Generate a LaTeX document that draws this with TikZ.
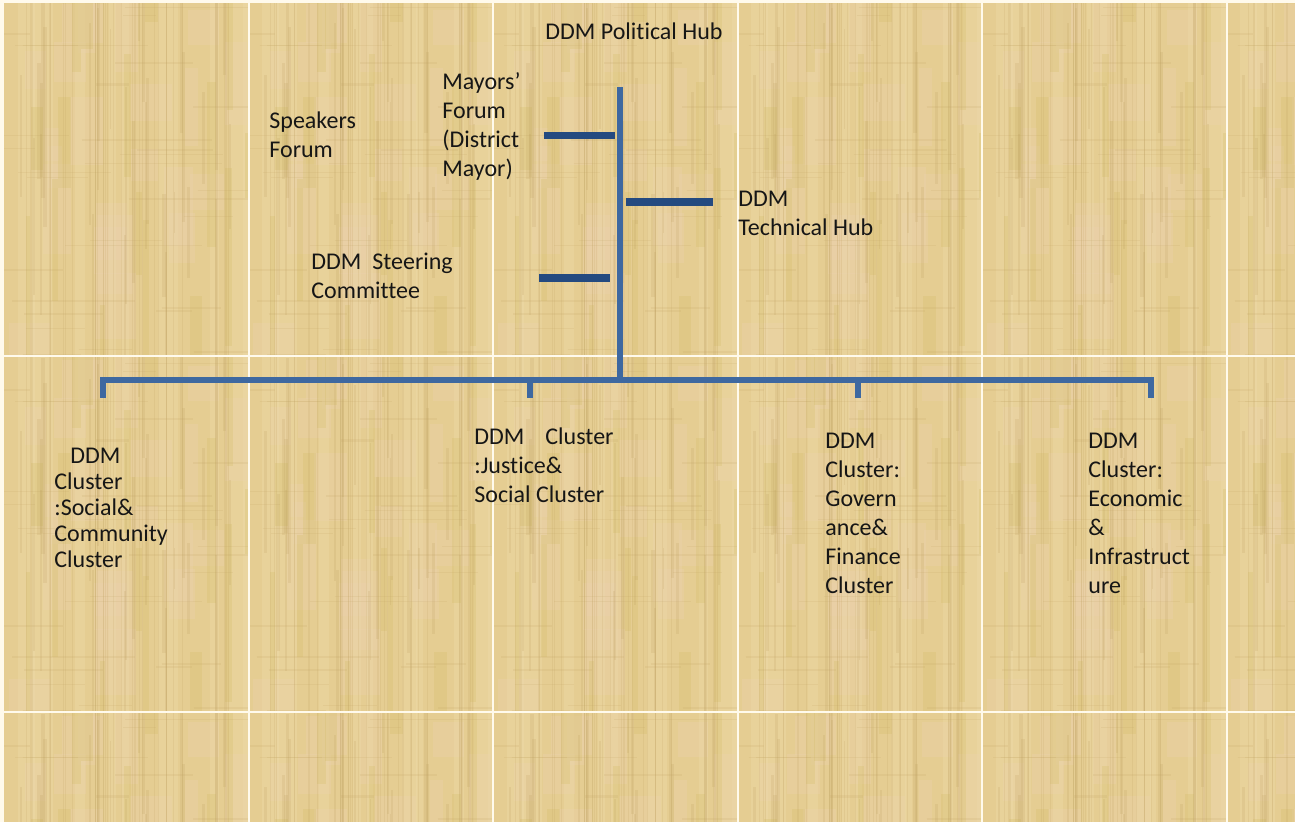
\documentclass[tikz,border=0pt]{standalone}
\usepackage{fontspec}
\setmainfont{Carlito}[Ligatures=NoCommon]

% papyrus background tones
\definecolor{papbase}{RGB}{229,205,146}
\definecolor{papdark}{RGB}{190,160,95}
\definecolor{paplight}{RGB}{245,228,185}
\definecolor{papolive}{RGB}{210,188,100}
\definecolor{paprose}{RGB}{236,210,176}
\definecolor{seam}{RGB}{255,250,236}
% connector and text colours
\definecolor{trunkblue}{RGB}{62,104,160}
\definecolor{stubblue}{RGB}{36,74,128}
\definecolor{ink}{RGB}{22,22,22}

% one papyrus tile, top-left corner at (#1,#2), same grain every time
\newcommand\papyrustile[2]{%
  \begin{scope}
    \clip (#1,#2) rectangle ++(244.5,356);
    \pgfmathsetseed{2024}%
    \foreach \k in {1,...,10}{%
      \pgfmathsetmacro\tx{#1+244.5*rnd}%
      \pgfmathsetmacro\tw{6+18*rnd}%
      \fill[paplight,opacity=0.22] (\tx,#2) rectangle ++(\tw,356);
    }%
    \foreach \k in {1,...,22}{%
      \pgfmathsetmacro\tx{#1+244.5*rnd-15}%
      \pgfmathsetmacro\ty{#2+356*rnd-30}%
      \pgfmathsetmacro\tw{12+30*rnd}%
      \pgfmathsetmacro\th{20+70*rnd}%
      \fill[paprose,opacity=0.3] (\tx,\ty) rectangle ++(\tw,\th);
    }%
    \foreach \k in {1,...,16}{%
      \pgfmathsetmacro\tx{#1+244.5*rnd}%
      \pgfmathsetmacro\ty{#2+356*rnd-50}%
      \pgfmathsetmacro\tw{4+12*rnd}%
      \pgfmathsetmacro\th{40+140*rnd}%
      \fill[papolive,opacity=0.25] (\tx,\ty) rectangle ++(\tw,\th);
    }%
    \foreach \k in {1,...,30}{%
      \pgfmathsetmacro\tx{#1+244.5*rnd}%
      \pgfmathsetmacro\ty{#2+356*rnd-60}%
      \pgfmathsetmacro\tw{1+3*rnd}%
      \pgfmathsetmacro\th{40+180*rnd}%
      \fill[papdark,opacity=0.18] (\tx,\ty) rectangle ++(\tw,\th);
    }%
    \foreach \k in {1,...,36}{%
      \pgfmathsetmacro\tx{#1+244.5*rnd}%
      \pgfmathsetmacro\lw{0.25+0.4*rnd}%
      \draw[papdark,opacity=0.16,line width=\lw pt] (\tx,#2) -- ++(0,356);
    }%
    \foreach \k in {1,...,30}{%
      \pgfmathsetmacro\tx{#1+220*rnd-20}%
      \pgfmathsetmacro\ty{#2+356*rnd}%
      \pgfmathsetmacro\tw{30+120*rnd}%
      \pgfmathsetmacro\lw{0.4+0.8*rnd}%
      \draw[papdark,opacity=0.14,line width=\lw pt] (\tx,\ty) -- ++(\tw,0);
    }%
  \end{scope}}

\tikzset{
  lbl/.style={anchor=base west, inner sep=0pt, align=flush left, text width=150pt,
    text=ink, font=\fontsize{12}{14.5}\selectfont},
  trunk/.style={draw=trunkblue, line width=3pt},
  stub/.style={draw=stubblue, line width=3.75pt},
}

\begin{document}
\begin{tikzpicture}[x=0.5pt, y=-0.5pt]
  \useasboundingbox (0,0) rectangle (1295,822);

  % papyrus sheet, tiled
  \fill[papbase] (0,0) rectangle (1295,822);
  \foreach \cx in {4,248.5,493,737.5,982,1226.5}{
    \foreach \cy in {0,356,712}{
      \papyrustile{\cx}{\cy}
    }
  }
  \foreach \sx in {248.5,493,737.5,982,1226.5}{
    \draw[seam, line width=1pt] (\sx,0) -- (\sx,822);
  }
  \foreach \sy in {356,712}{
    \draw[seam, line width=1pt] (0,\sy) -- (1295,\sy);
  }
  \fill[seam] (0,0) rectangle (1295,3);
  \fill[seam] (0,0) rectangle (4,822);

  % labels
  \node[lbl] (political) at (545,40) {DDM Political Hub};
  \node[lbl] (mayors) at (442,90) {Mayors’\\Forum\\(District\\Mayor)};
  \node[lbl] (speakers) at (269,129) {Speakers\\Forum};
  \node[lbl] (technical) at (738,207) {DDM\\Technical Hub};
  \node[lbl] (steering) at (311,270) {DDM\ \ Steering\\Committee};

  \node[lbl, font=\fontsize{12}{13}\selectfont] (social) at (54,464)
    {\hspace*{8pt}DDM\\Cluster\\:Social\&\\Community\\Cluster};
  \node[lbl] (justice) at (474,445) {DDM\hspace{10.5pt}Cluster\\:Justice\&\\Social Cluster};
  \node[lbl] (governance) at (825,449) {DDM\\Cluster:\\Govern\\ance\&\\Finance\\Cluster};
  \node[lbl] (economic) at (1088,449) {DDM\\Cluster:\\Economic\\\&\\Infrastruct\\ure};

  % connector points
  \coordinate (trunktop) at (620,87);
  \coordinate (trunkbot) at (620,380);
  \coordinate (mayorsL) at (544,135.5);
  \coordinate (mayorsR) at (615,135.5);
  \coordinate (techL) at (626,202);
  \coordinate (techR) at (713,202);
  \coordinate (steerL) at (539,278);
  \coordinate (steerR) at (610,278);
  \coordinate (busL) at (103,380);
  \coordinate (busJ) at (530,380);
  \coordinate (busG) at (858,380);
  \coordinate (busR) at (1151,380);
  \coordinate (dropS) at (103,398);
  \coordinate (dropJ) at (530,398);
  \coordinate (dropG) at (858,398);
  \coordinate (dropE) at (1151,398);

  % hub trunk and branches
  \draw[trunk] (trunktop) -- (trunkbot);
  \draw[stub] (mayorsL) -- (mayorsR);
  \draw[stub] (techL) -- (techR);
  \draw[stub] (steerL) -- (steerR);

  % cluster bus
  \draw[trunk, line join=miter] (dropS) -- (busL) -- (busR) -- (dropE);
  \draw[trunk] (busJ) -- (dropJ);
  \draw[trunk] (busG) -- (dropG);
\end{tikzpicture}
\end{document}
